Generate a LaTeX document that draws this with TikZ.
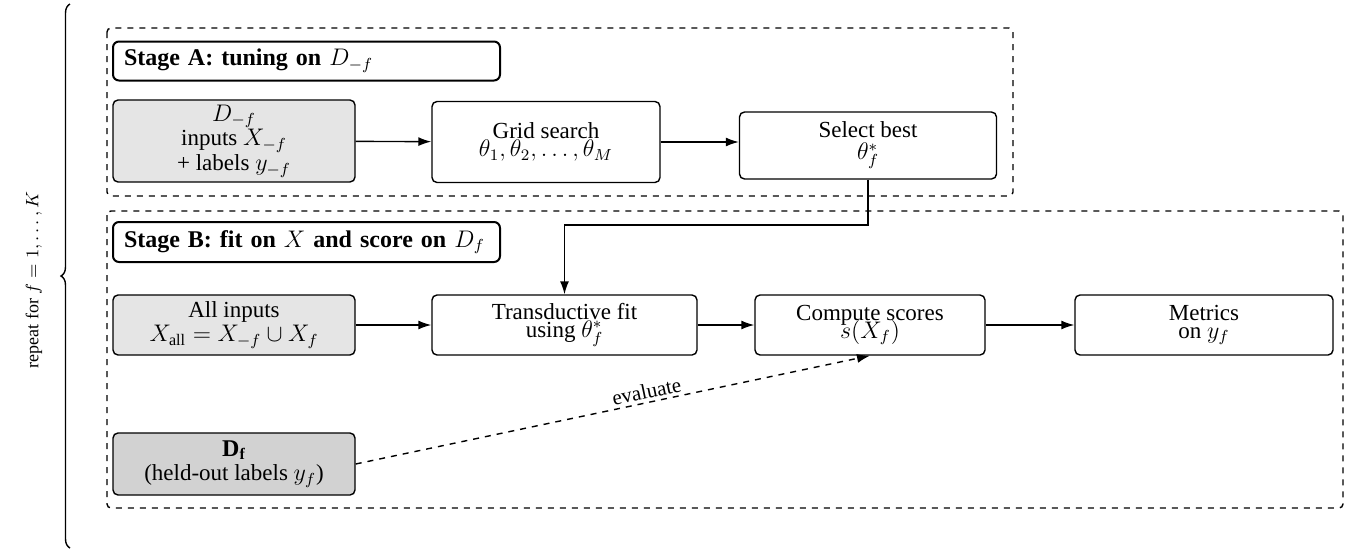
\documentclass[tikz,border=0pt]{standalone}
\usepackage{fontspec}
\setmainfont{Liberation Serif}
\usetikzlibrary{arrows.meta,decorations.pathreplacing}
\begin{document}
\begin{tikzpicture}[x=0.5pt,y=-0.5pt,
  box/.style={draw, line width=0.7pt, rounded corners=2.5pt, align=center,
    inner sep=1pt, font=\fontsize{11.5}{13.8}\selectfont},
  datbox/.style={box, fill=gray!20},
  heldbox/.style={box, fill=gray!35},
  titlebox/.style={draw, line width=1pt, rounded corners=3pt, align=left,
    inner xsep=5.5pt, inner ysep=0pt, text width=182.5pt, minimum height=19.5pt,
    font=\fontsize{12}{14}\selectfont\bfseries},
  frame/.style={draw, dashed, line width=0.7pt, rounded corners=2pt},
  arr/.style={-{Latex[length=6.5pt,width=4.5pt]}, line width=0.7pt},
]
\useasboundingbox (0,0) rectangle (1350,552);

% dashed stage frames
\draw[frame] (107,28) rectangle (1013,196);
\draw[frame] (107,211) rectangle (1343,508);

% loop brace and label
\coordinate (braceBot) at (70,548);
\coordinate (braceTop) at (70,4);
\draw[decorate, decoration={brace, amplitude=4.5pt}, line width=0.7pt] (braceBot) -- (braceTop);
\node[rotate=90, font=\fontsize{9}{11}\selectfont] (loop) at (34,280) {repeat for $f = 1, \ldots, K$};

% Stage A
\node[titlebox] (titleA) at (306.5,61) {Stage A: tuning on $D_{-f}$};
\node[datbox, minimum width=121pt, minimum height=41pt] (dA) at (234,141)
  {$D_{-f}$\\[-1.5pt] inputs $X_{-f}$\\[-1.5pt] + labels $y_{-f}$};
\node[box, minimum width=114pt, minimum height=40.5pt] (grid) at (546,142)
  {Grid search\\[-5pt] $\theta_1, \theta_2, \ldots, \theta_M$};
\node[box, minimum width=128.5pt, minimum height=33.5pt] (select) at (868,145.5)
  {Select best\\[-2.8pt] $\theta^{*}_{f}$};

% Stage B
\node[titlebox, minimum height=20pt] (titleB) at (306.5,242) {Stage B: fit on $X$ and score on $D_f$};
\node[datbox, minimum width=121pt, minimum height=30pt] (allin) at (234,325)
  {All inputs\\[-1.5pt] $X_{\mathrm{all}} = X_{-f} \cup X_f$};
\node[box, minimum width=132.5pt, minimum height=30pt] (trans) at (564.5,325)
  {Transductive fit\\[-5pt] using $\theta^{*}_{f}$};
\node[box, minimum width=115pt, minimum height=30pt] (comp) at (870,325)
  {Compute scores\\[-5pt] $s(X_f)$};
\node[box, minimum width=129pt, minimum height=30pt] (metr) at (1204,325)
  {Metrics\\[-5pt] on $y_f$};
\node[heldbox, minimum width=121pt, minimum height=31pt] (df) at (234,464)
  {{\large$\mathbf{D_f}$}\\[-1.5pt] (held-out labels $y_f$)};

% connectors
\draw[arr] (dA) -- (grid);
\draw[arr] (grid.east) -- (select.west |- grid.east);
\coordinate (bend) at (trans.north |- 0,225);
\draw[arr] (select.south) -- (select.south |- bend) -- (bend) -- (trans.north);
\draw[arr] (allin) -- (trans);
\draw[arr] (trans) -- (comp);
\draw[arr] (comp) -- (metr);
\draw[arr, dashed] (df.east) -- (comp.south)
  node[pos=0.57, above, sloped, inner sep=1.5pt, font=\fontsize{10.5}{12.5}\selectfont] {evaluate};
\end{tikzpicture}
\end{document}
